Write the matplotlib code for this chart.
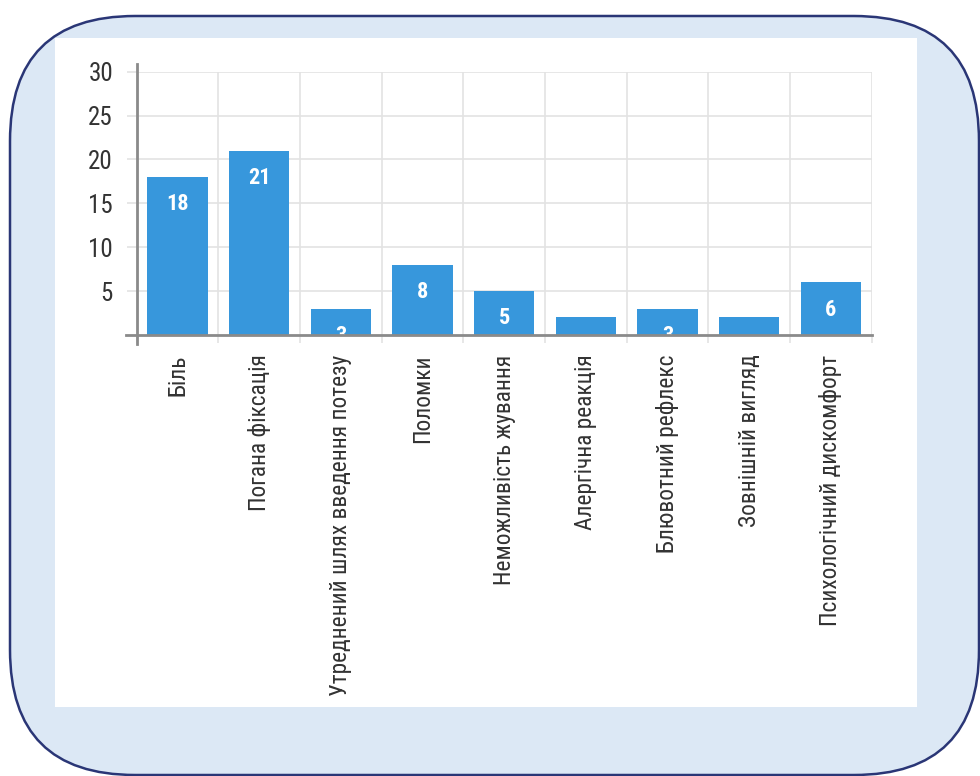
import matplotlib
matplotlib.use("Agg")
import matplotlib.pyplot as plt
import numpy as np
from matplotlib.patches import FancyBboxPatch, Rectangle

categories = [
    "Біль",
    "Погана фіксація",
    "Утреднений шлях введення потезу",
    "Поломки",
    "Неможливість жування",
    "Алергічна реакція",
    "Блювотний рефлекс",
    "Зовнішній вигляд",
    "Психологічний дискомфорт",
]
counts = [18, 21, 3, 8, 5, 2, 3, 2, 6]
y_ticks = [5, 10, 15, 20, 25, 30]

FONT = ["Roboto Condensed", "Noto Sans", "DejaVu Sans"]
STRETCH = "extra-condensed"
BAR_COLOR = "#3797dc"
GRID_COLOR = "#e3e3e3"
AXIS_COLOR = "#8a8a8a"
TEXT_COLOR = "#333333"

W, H = 980, 776
fig = plt.figure(figsize=(W / 100, H / 100), dpi=100, facecolor="white")

# background frame: rounded light-blue box with a white panel inside
bg = fig.add_axes([0, 0, 1, 1])
bg.set_xlim(0, W)
bg.set_ylim(0, H)
bg.axis("off")
box = FancyBboxPatch((10, H - 775), 969, 759,
                     boxstyle="round,pad=0,rounding_size=125",
                     facecolor="#dce8f5", edgecolor="#2a3676", linewidth=1.8)
bg.add_patch(box)
bg.add_patch(Rectangle((55, H - 707), 862, 669, facecolor="white", edgecolor="none"))

# chart area
left, right = 136.7, 871.7
y0_px, y30_px = 335.0, 71.7
ax = fig.add_axes([left / W, 1 - y0_px / H, (right - left) / W, (y0_px - y30_px) / H])
ax.set_facecolor("none")

x = np.arange(len(categories))
bars = ax.bar(x, counts, width=0.74, color=BAR_COLOR, zorder=3)
ax.set_xlim(-0.5, len(categories) - 0.5)
ax.set_ylim(0, 30)

for rect, v in zip(bars, counts):
    ax.text(rect.get_x() + rect.get_width() / 2, v - 3.1, str(v),
            ha="center", va="center", color="white", fontsize=16,
            fontweight="bold", family=FONT, fontstretch=STRETCH,
            clip_on=True, zorder=4)

for s in ax.spines.values():
    s.set_visible(False)

# gridlines
ax.set_yticks(y_ticks)
ax.set_yticklabels([str(t) for t in y_ticks], family=FONT, fontstretch=STRETCH,
                   fontsize=18, color=TEXT_COLOR)
ax.yaxis.grid(True, color=GRID_COLOR, linewidth=1.2, zorder=0)
ax.tick_params(axis="y", length=7, color=GRID_COLOR, width=1.2, pad=10)

ax.set_xticks(x)
ax.set_xticklabels(categories, rotation=90, family=FONT, fontstretch=STRETCH,
                   fontsize=16.8, color=TEXT_COLOR, va="top", ha="center")
ax.tick_params(axis="x", which="major", length=0, pad=14)
ax.set_xticks(np.arange(len(categories) + 1) - 0.5, minor=True)
ax.xaxis.grid(True, which="minor", color=GRID_COLOR, linewidth=1.2, zorder=0)
ax.tick_params(axis="x", which="minor", length=6, color=GRID_COLOR, width=1.2)

# axis lines (extend a bit past the plot like the original)
ax.plot([0, 0], [-0.035, 1.03], transform=ax.transAxes, color=AXIS_COLOR,
        linewidth=2, clip_on=False, zorder=5)
ax.plot([-0.014, 1], [0, 0], transform=ax.transAxes, color=AXIS_COLOR,
        linewidth=2, clip_on=False, zorder=5)

fig.savefig("out.png", dpi=100, facecolor="white")
